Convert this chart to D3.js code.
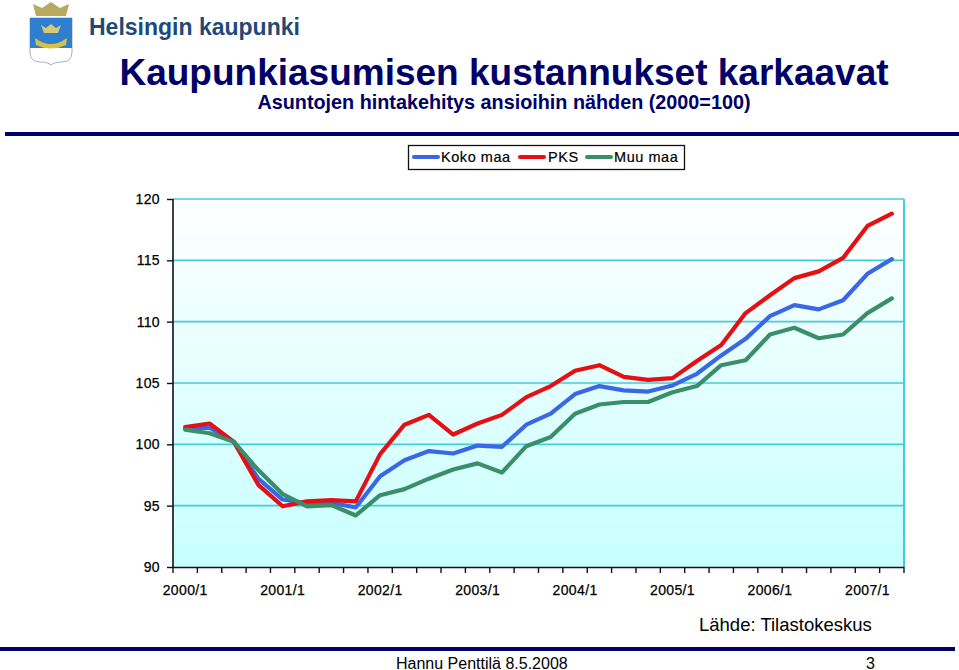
<!DOCTYPE html>
<html><head><meta charset="utf-8">
<script src="https://cdnjs.cloudflare.com/ajax/libs/d3/7.8.5/d3.min.js"></script>
<style>
html,body{margin:0;padding:0;background:#fff;overflow:hidden}
svg{display:block}
text{font-family:"Liberation Sans",Arial,sans-serif}
</style></head><body>
<svg id="c" width="959" height="670"></svg>
<script>
const years = [2000,2001,2002,2003,2004,2005,2006,2007];
const quarters = years.flatMap(y => [1,2,3,4].map(q => y + "/" + q)).slice(0,30);
const yTicks = [90,95,100,105,110,115,120];
const kokoMaa = [101.3,101.35,100.2,97.2,95.5,95.2,95.25,94.85,97.4,98.7,99.45,99.25,99.9,99.8,101.6,102.5,104.1,104.75,104.4,104.3,104.8,105.75,107.25,108.6,110.45,111.35,111,111.75,113.9,115.1];
const pks = [101.4,101.7,100.2,96.7,94.95,95.35,95.45,95.35,99.2,101.6,102.4,100.8,101.7,102.4,103.85,104.75,106,106.45,105.5,105.25,105.4,106.8,108.1,110.7,112.15,113.55,114.1,115.2,117.8,118.8];
const muuMaa = [101.2,100.9,100.2,97.9,95.95,94.95,95.05,94.2,95.85,96.35,97.2,97.95,98.45,97.7,99.85,100.6,102.5,103.25,103.45,103.45,104.25,104.75,106.45,106.85,108.95,109.5,108.65,108.95,110.7,111.9];
const seriesNames = ["Koko maa","PKS","Muu maa"];
const seriesColors = ["#3a66e8","#e60f14","#3a8f68"];
const seriesValues = [kokoMaa,pks,muuMaa];
const drawOrder = [0,1,2];

const svg = d3.select("#c");
const L=173,R=904,T=199,B=567;
const x = d3.scaleBand().domain(quarters).range([L,R]);
const y = d3.scaleLinear().domain([90,120]).range([B,T]);

const defs = svg.append("defs");
const g = defs.append("linearGradient").attr("id","bg").attr("x1",0).attr("y1",0).attr("x2",0).attr("y2",1);
g.append("stop").attr("offset","0%").attr("stop-color","#ffffff");
g.append("stop").attr("offset","100%").attr("stop-color","#c8ffff");

// header
const navy="#000066";
svg.append("rect").attr("x",5).attr("y",132).attr("width",954).attr("height",4).attr("fill",navy);
svg.append("rect").attr("x",0).attr("y",647).attr("width",955).attr("height",4).attr("fill",navy);

// crest
const crest = svg.append("g");
crest.append("path").attr("d","M30 18H72V52Q72 62 62 62Q54 62 51 65Q48 62 40 62Q30 62 30 52Z").attr("fill","#fff").attr("stroke","#aab0b8");
crest.append("path").attr("d","M30 18H72V48H30Z").attr("fill","#2f7fd0");
crest.append("path").attr("d","M35 38Q51 50 67 38L66 45Q51 52 36 45Z").attr("fill","#d8c040");
crest.append("path").attr("d","M41 25L46 28L51 24L56 28L61 25L58 33H44Z").attr("fill","#d8c878");
crest.append("path").attr("d","M36 16L33 4L42 8L51 2L60 8L69 4L66 16Z").attr("fill","#b8a860");
svg.append("text").attr("x",89).attr("y",35).attr("font-size",23).attr("font-weight",700).attr("fill","#1f4a78").text("Helsingin kaupunki");

svg.append("text").attr("x",504).attr("y",85).attr("text-anchor","middle").attr("font-size",37).attr("font-weight",700).attr("fill",navy).text("Kaupunkiasumisen kustannukset karkaavat");
svg.append("text").attr("x",504).attr("y",109).attr("text-anchor","middle").attr("font-size",19.8).attr("font-weight",700).attr("fill",navy).text("Asuntojen hintakehitys ansioihin nähden (2000=100)");

// plot
svg.append("rect").attr("x",L).attr("y",T).attr("width",R-L).attr("height",B-T).attr("fill","url(#bg)");
svg.append("g").selectAll("line").data(yTicks.slice(1)).join("line")
  .attr("x1",L).attr("x2",R).attr("y1",d=>y(d)).attr("y2",d=>y(d))
  .attr("stroke","#44ccd8").attr("stroke-width",1.6);
svg.append("line").attr("x1",R).attr("x2",R).attr("y1",T).attr("y2",B).attr("stroke","#44ccd8").attr("stroke-width",2);

const line = d3.line().x((d,i)=>x(quarters[i])+x.bandwidth()/2).y(d=>y(d));
svg.append("g").selectAll("path").data(drawOrder).join("path")
  .attr("d",k=>line(seriesValues[k])).attr("fill","none")
  .attr("stroke",k=>seriesColors[k]).attr("stroke-width",4.2)
  .attr("stroke-linejoin","round").attr("stroke-linecap","round");

// axes
const ax = svg.append("g").attr("transform",`translate(0,${B})`)
  .call(d3.axisBottom(x).tickSize(0).tickPadding(18).tickFormat(d=>d.endsWith("/1")?d:""));
ax.select(".domain").attr("d",`M${L},0.5H${R}`).attr("stroke","#111").attr("stroke-width",1.6);
ax.selectAll("text").attr("font-size",14).attr("fill","#000").style("font-family",'"Liberation Sans"').style("letter-spacing","0.35px").attr("stroke","#000").attr("stroke-width",0.25);
ax.selectAll("line.edge").data(d3.range(quarters.length+1)).join("line").attr("class","edge")
  .attr("x1",i=>L+i*x.step()).attr("x2",i=>L+i*x.step()).attr("y1",0).attr("y2",6).attr("stroke","#111").attr("stroke-width",1.4);

const ay = svg.append("g").attr("transform",`translate(${L},0)`)
  .call(d3.axisLeft(y).tickValues(yTicks).tickSize(6).tickPadding(7));
ay.select(".domain").attr("d",`M0,${T}V${B}`).attr("stroke","#111").attr("stroke-width",1.6);
ay.selectAll("line").attr("stroke","#111").attr("stroke-width",1.4);
ay.selectAll("text").attr("font-size",14).attr("fill","#000").style("font-family",'"Liberation Sans"').style("letter-spacing","0.35px").attr("stroke","#000").attr("stroke-width",0.25);

// legend
svg.append("rect").attr("x",408.5).attr("y",145.5).attr("width",276).attr("height",24).attr("fill","#fff").attr("stroke","#111").attr("stroke-width",1.3);
const legX=[[414,438,441],[520,544,548],[587,611,614]];
const lg = svg.append("g").selectAll("g").data(seriesNames).join("g");
lg.append("line").attr("x1",(d,i)=>legX[i][0]).attr("x2",(d,i)=>legX[i][1]).attr("y1",157).attr("y2",157)
  .attr("stroke",(d,i)=>seriesColors[i]).attr("stroke-width",4).attr("stroke-linecap","round");
lg.append("text").attr("x",(d,i)=>legX[i][2]).attr("y",162).attr("font-size",14.5).style("letter-spacing","0.55px").attr("fill","#000").attr("stroke","#000").attr("stroke-width",0.2).text(d=>d);

svg.append("text").attr("x",699).attr("y",631).attr("font-size",18.5).attr("fill","#000").text("Lähde: Tilastokeskus");
svg.append("text").attr("x",396).attr("y",669).attr("font-size",16).attr("fill","#000").text("Hannu Penttilä 8.5.2008");
svg.append("text").attr("x",866).attr("y",669).attr("font-size",16).attr("fill","#000").text("3");
</script>
</body></html>
